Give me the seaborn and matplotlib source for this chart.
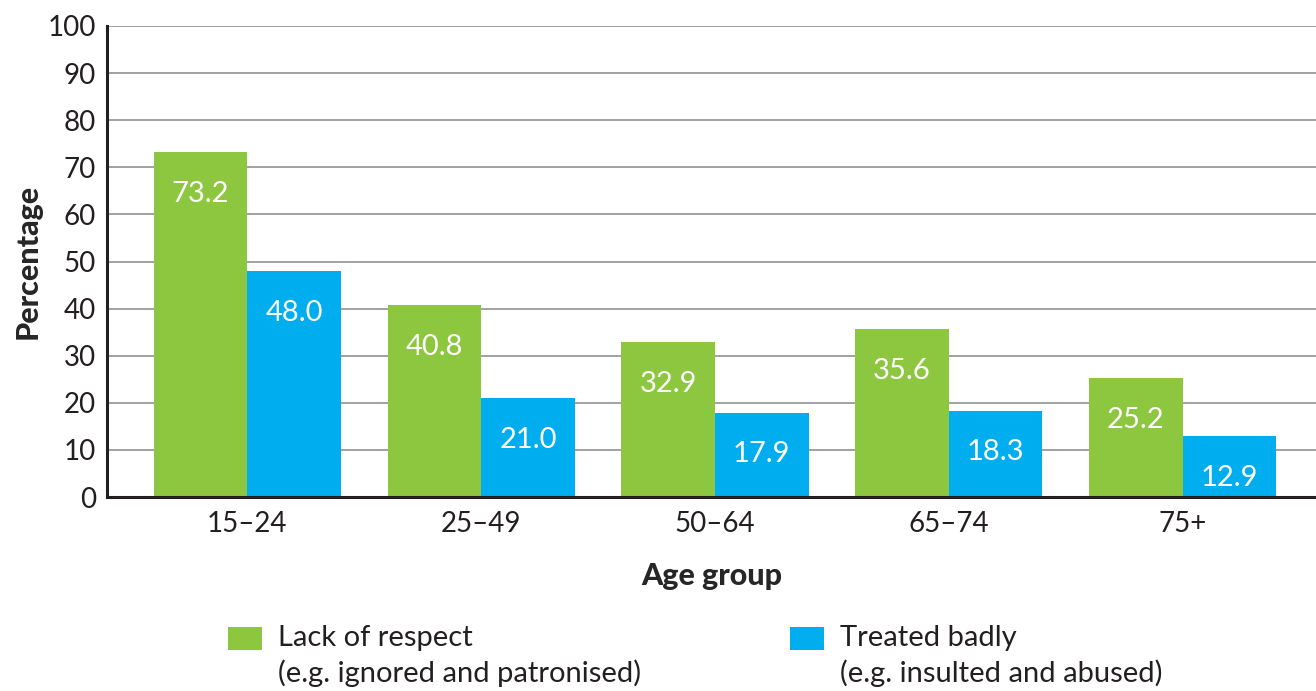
import pandas as pd
import numpy as np
import seaborn as sns
import matplotlib.pyplot as plt
from matplotlib.patches import Rectangle

# Data
age_groups = ["15–24", "25–49", "50–64", "65–74", "75+"]
lack_of_respect = [73.2, 40.8, 32.9, 35.6, 25.2]
treated_badly = [48.0, 21.0, 17.9, 18.3, 12.9]
series_names = ["Lack of respect", "Treated badly"]
series_notes = ["(e.g. ignored and patronised)", "(e.g. insulted and abused)"]
colors = ["#8DC63F", "#00AEEF"]

df = pd.DataFrame({
    "age": age_groups * 2,
    "value": lack_of_respect + treated_badly,
    "series": [series_names[0]] * 5 + [series_names[1]] * 5,
})

sns.set_style("white")
plt.rcParams["font.family"] = ["Lato", "DejaVu Sans"]
plt.rcParams["text.color"] = "#231F20"

fig = plt.figure(figsize=(13.16, 6.91), dpi=100)
ax = fig.add_axes([0.0813, 0.2807, 0.9187, 0.6817])

sns.barplot(data=df, x="age", y="value", hue="series", palette=colors,
            width=0.8, saturation=1, linewidth=0, ax=ax, legend=False, zorder=3)

# Value labels inside the bars
for cont in ax.containers:
    for bar in cont:
        h = bar.get_height()
        ax.annotate(f"{h:.1f}", xy=(bar.get_x() + bar.get_width() / 2, h),
                    xytext=(0, -30), textcoords="offset points",
                    ha="center", va="center", color="white", fontsize=21, zorder=4)

ax.set_ylim(0, 100)
ax.set_xlim(-0.6, 4.57)
ax.set_yticks(np.arange(0, 101, 10))
ax.yaxis.grid(True, color="#9a9a9a", linewidth=1.3, zorder=0)
ax.xaxis.grid(False)
ax.tick_params(axis="both", length=0, labelsize=20, colors="#231F20", pad=8)
ax.tick_params(axis="x", pad=10)

for side in ["top", "right"]:
    ax.spines[side].set_visible(False)
for side in ["left", "bottom"]:
    ax.spines[side].set_color("#231F20")
    ax.spines[side].set_linewidth(2.2)
    ax.spines[side].set_zorder(5)

ax.set_ylabel("Percentage", fontsize=22, fontweight="black", labelpad=4)
ax.set_xlabel("Age group", fontsize=22, fontweight="black", labelpad=18)

# Legend below the chart: swatch aligned with the first text line
for i, xpos in enumerate([228, 790]):
    fig.patches.append(Rectangle((xpos / 1316, 1 - 650 / 691), 34 / 1316, 23 / 691,
                                 transform=fig.transFigure, facecolor=colors[i],
                                 edgecolor="none"))
    fig.text((xpos + 50) / 1316, 1 - 638 / 691, series_names[i],
             fontsize=21, va="center", ha="left")
    fig.text((xpos + 50) / 1316, 1 - 673 / 691, series_notes[i],
             fontsize=21, va="center", ha="left")

plt.savefig("out.png", dpi=100)
